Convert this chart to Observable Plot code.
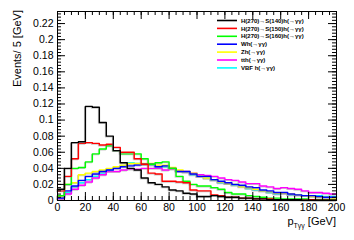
<!DOCTYPE html>
<html><head><meta charset="utf-8">
<script src="https://cdn.jsdelivr.net/npm/d3@7"></script>
<script src="https://cdn.jsdelivr.net/npm/@observablehq/plot@0.6"></script>
<style>body{margin:0;background:#fff} #chart svg{display:block}</style>
</head><body><div id="chart"></div>
<script>
// bin low edges (GeV), 5 GeV bins
const binLow = [0,5,10,15,20,25,30,35,40,45,50,55,60,65,70,75,80,85,90,95,100,105,110,115,120,125,130,135,140,145,150,155,160,165,170,175,180,185,190,195];
const binEnd = 200;

const hS140 = [0.014,0.040,0.072,0.073,0.117,0.116,0.097,0.080,0.062,0.047,0.040,0.038,0.028,0.022,0.020,0.017,0.013,0.012,0.009,0.008,0.005,0.005,0.006,0.005,0.004,0.004,0.003,0.003,0.002,0.002,0.001,0.001,0.001,0.001,0.001,0.0005,0.0005,0.0005,0.0005,0.0005];
const hS150 = [0.012,0.030,0.052,0.071,0.072,0.071,0.069,0.070,0.066,0.060,0.060,0.052,0.045,0.034,0.033,0.024,0.024,0.023,0.022,0.013,0.012,0.012,0.007,0.006,0.004,0.004,0.003,0.003,0.002,0.002,0.002,0.001,0.001,0.001,0.001,0.0005,0.001,0.0005,0.0005,0.0005];
const hS160 = [0.006,0.020,0.040,0.041,0.048,0.058,0.064,0.068,0.062,0.058,0.058,0.058,0.052,0.045,0.047,0.048,0.040,0.030,0.024,0.020,0.018,0.018,0.016,0.014,0.010,0.008,0.008,0.006,0.005,0.004,0.003,0.003,0.002,0.002,0.002,0.002,0.001,0.001,0.001,0.001];
const hWh   = [0.003,0.012,0.018,0.025,0.030,0.033,0.036,0.038,0.040,0.042,0.043,0.044,0.045,0.045,0.042,0.043,0.040,0.036,0.036,0.033,0.030,0.030,0.026,0.024,0.022,0.020,0.019,0.017,0.016,0.013,0.012,0.010,0.010,0.008,0.007,0.006,0.006,0.005,0.004,0.004];
const hZh   = [0.005,0.020,0.022,0.032,0.034,0.036,0.038,0.040,0.042,0.044,0.046,0.046,0.046,0.046,0.044,0.044,0.041,0.038,0.036,0.034,0.030,0.028,0.026,0.023,0.021,0.020,0.017,0.016,0.014,0.012,0.011,0.009,0.009,0.008,0.007,0.006,0.005,0.004,0.004,0.003];
const htth  = [0.002,0.008,0.014,0.019,0.023,0.028,0.032,0.036,0.036,0.038,0.039,0.039,0.040,0.040,0.040,0.038,0.039,0.037,0.036,0.034,0.032,0.031,0.030,0.028,0.026,0.025,0.023,0.021,0.021,0.018,0.017,0.015,0.016,0.015,0.014,0.012,0.010,0.010,0.009,0.008];
const hVBF  = [0.004,0.010,0.017,0.022,0.026,0.030,0.034,0.038,0.040,0.043,0.047,0.046,0.045,0.044,0.042,0.042,0.040,0.037,0.035,0.032,0.030,0.028,0.025,0.022,0.021,0.019,0.018,0.015,0.013,0.012,0.010,0.008,0.009,0.007,0.007,0.006,0.006,0.006,0.005,0.005];

const seriesLabels = ["H(270)\u2192S(140)h(\u2192\u03b3\u03b3)","H(270)\u2192S(150)h(\u2192\u03b3\u03b3)","H(270)\u2192S(160)h(\u2192\u03b3\u03b3)","Wh(\u2192\u03b3\u03b3)","Zh(\u2192\u03b3\u03b3)","tth(\u2192\u03b3\u03b3)","VBF h(\u2192\u03b3\u03b3)"];
const seriesValues = [hS140,hS150,hS160,hWh,hZh,htth,hVBF];
const seriesColors = ["#000000","#ff0000","#00ff00","#0000ff","#ffff00","#ff00ff","#00ffff"];
// draw order (back to front)
const drawOrder = [6,5,4,3,2,1,0];

const xTicks = [0,20,40,60,80,100,120,140,160,180,200];
const yTicks = [0,0.02,0.04,0.06,0.08,0.1,0.12,0.14,0.16,0.18,0.2,0.22];
const xMinor = d3.range(0, 200.1, 5);
const yMinor = d3.range(0, 0.235, 0.004);

const W = 354, H = 240, ml = 57, mr = 18, mt = 11, mb = 40;
const pw = W - ml - mr, ph = H - mt - mb;

function rows(i) {
  const v = seriesValues[i];
  const r = binLow.map((x, j) => ({x, y: v[j], s: i}));
  r.push({x: binEnd, y: v[v.length - 1], s: i});
  return r;
}

const lineMarks = [];
for (const i of drawOrder) {
  lineMarks.push(Plot.line(rows(i), {x: "x", y: "y", curve: "step-after", stroke: "#9a9a9a", strokeWidth: 1.3, dx: -0.8, dy: 0.8, strokeOpacity: 0.55}));
  lineMarks.push(Plot.line(rows(i), {x: "x", y: "y", curve: "step-after", stroke: seriesColors[i], strokeWidth: 1.4}));
}

const plot = Plot.plot({
  width: W, height: H,
  marginLeft: ml, marginRight: mr, marginTop: mt, marginBottom: mb,
  x: {domain: [0, 200]},
  y: {domain: [0, 0.235]},
  style: {fontFamily: "'Liberation Sans', Arial, sans-serif", fontSize: "10.5px", background: "#fff", color: "#000", overflow: "visible"},
  marks: [
    ...lineMarks,
    Plot.ruleX(xTicks, {x: d => d, insetTop: ph - 8, stroke: "#000"}),
    Plot.ruleX(xTicks, {x: d => d, insetBottom: ph - 8, stroke: "#000"}),
    Plot.ruleX(xMinor, {x: d => d, insetTop: ph - 4, stroke: "#000"}),
    Plot.ruleX(xMinor, {x: d => d, insetBottom: ph - 4, stroke: "#000"}),
    Plot.ruleY(yTicks, {y: d => d, insetRight: pw - 8, stroke: "#000"}),
    Plot.ruleY(yTicks, {y: d => d, insetLeft: pw - 8, stroke: "#000"}),
    Plot.ruleY(yMinor, {y: d => d, insetRight: pw - 4, stroke: "#000"}),
    Plot.ruleY(yMinor, {y: d => d, insetLeft: pw - 4, stroke: "#000"}),
    Plot.frame({stroke: "#000", strokeWidth: 1}),
    Plot.axisX({ticks: xTicks, tickSize: 0, tickPadding: 3, label: null, tickFormat: d => String(d)}),
    Plot.axisY({ticks: yTicks, tickSize: 0, tickPadding: 4, label: null, tickFormat: d => String(d)})
  ]
});

const svg = d3.select(plot);
// legend
const lg = svg.append("g").attr("font-family", "'Liberation Sans', Arial, sans-serif").attr("font-size", 6).attr("font-weight", "bold").attr("fill", "#000").attr("text-anchor", "start");
seriesLabels.forEach((t, i) => {
  const y = 20.5 + i * 7.9;
  lg.append("line").attr("x1", 217).attr("x2", 237).attr("y1", y).attr("y2", y).attr("stroke", seriesColors[i]).attr("stroke-width", 1.6);
  lg.append("text").attr("x", 241).attr("y", y).attr("dy", "0.35em").attr("text-anchor", "start").text(t);
});
// x title
const xt = svg.append("text").attr("x", 336).attr("y", 225).attr("text-anchor", "end")
  .attr("font-family", "'Liberation Sans', Arial, sans-serif").attr("font-size", 11).attr("fill", "#000");
xt.append("tspan").text("p");
xt.append("tspan").attr("font-size", 7).attr("dy", 3).text("T\u03b3\u03b3");
xt.append("tspan").attr("dy", -3).text(" [GeV]");
// y title
svg.append("text").attr("transform", "translate(21,10) rotate(-90)").attr("text-anchor", "end")
  .attr("font-family", "'Liberation Sans', Arial, sans-serif").attr("font-size", 11).attr("fill", "#000")
  .text("Events/ 5 [GeV]");

document.getElementById("chart").appendChild(plot);
</script>
</body></html>
